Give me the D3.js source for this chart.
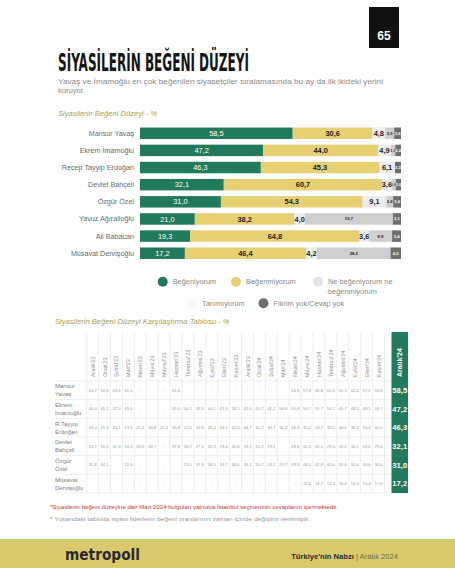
<!DOCTYPE html>
<html><head><meta charset="utf-8">
<script src="https://cdn.jsdelivr.net/npm/d3@7"></script>
<style>
html,body{margin:0;padding:0;background:#fff;}
svg{display:block;font-family:"Liberation Sans",Arial,sans-serif;}
</style></head>
<body><svg id="c" width="455" height="568"></svg>
<script>
// ---- bar chart data ----
const categories = ["Mansur Yavaş","Ekrem İmamoğlu","Recep Tayyip Erdoğan","Devlet Bahçeli","Özgür Özel","Yavuz Ağıralioğlu","Ali Babacan","Müsavat Dervişoğlu"];
const begeniyorum  = [58.5,47.2,46.3,32.1,31.0,21.0,19.3,17.2];
const begenmiyorum = [30.6,44.0,45.3,60.7,54.3,38.2,64.8,46.4];
const neNe         = [4.8,4.9,6.1,3.6,9.1,4.0,3.6,4.2];
const tanimiyorum  = [3.5,1.7,0,1.6,2.6,33.7,8.9,28.2];
const fikrimYok    = [2.6,2.2,2.3,2.0,3.0,3.1,3.4,4.0];
const seriesNames = ["Beğeniyorum","Beğenmiyorum","Ne beğeniyorum ne beğenmiyorum","Tanımıyorum","Fikrim yok/Cevap yok"];

// ---- comparison table data ----
const months = ["Aralık'22","Ocak'23","Şubat'23","Mart'23","Nisan'23","Mayıs'23","Mayıs2'23","Haziran'23","Temmuz'23","Ağustos'23","Eylül'23","Ekim'23","Kasım'23","Aralık'23","Ocak'24","Şubat'24","Mart'24","Nisan'24","Mayıs'24","Haziran'24","Temmuz'24","Ağustos'24","Eylül'24","Ekim'24","Kasım'24","Aralık'24"];
const tableRows = ["Mansur|Yavaş","Ekrem|İmamoğlu","R.Tayyip|Erdoğan","Devlet|Bahçeli","Özgür|Özel","Müsavat|Dervişoğlu"];
const yavasT   = [53.7,55.8,53.4,51.6,null,null,null,51.6,null,null,null,null,null,null,null,null,null,55.8,57.8,55.8,55.5,51.5,52.2,57.2,53.5,58.5];
const imamogluT= [46.4,45.1,47.0,45.0,null,null,null,45.0,50.1,39.3,40.1,41.5,38.1,41.0,41.7,41.2,50.8,50.8,50.7,51.7,54.2,45.7,46.2,48.1,46.7,47.2];
const erdoganT = [39.4,41.6,43.1,43.5,47.2,50.8,47.2,56.8,41.0,39.8,45.4,43.6,44.8,44.7,40.7,39.7,41.8,39.3,45.0,43.2,39.2,40.0,39.2,34.4,40.0,46.3];
const bahceliT = [34.2,35.1,31.3,34.4,33.6,34.7,null,37.8,30.7,27.4,32.2,29.6,30.6,33.3,31.2,29.4,null,29.8,32.1,32.3,29.0,32.2,30.1,26.6,29.0,32.1];
const ozelT    = [31.8,34.1,null,32.6,null,null,null,null,25.1,37.8,38.1,34.7,34.6,35.2,35.2,24.2,23.7,39.3,46.1,41.8,40.0,31.0,30.4,34.6,30.6,31.0];
const dervisogluT = [null,null,null,null,null,null,null,null,null,null,null,null,null,null,null,null,null,null,15.6,14.2,14.4,15.4,13.9,15.4,17.0,17.2];
const tableValues = [yavasT,imamogluT,erdoganT,bahceliT,ozelT,dervisogluT];

const colors = ["#227a5c","#e6d072","#ececec","#cfcfcf","#6e6e6e"];
const green = "#227a5c";
const fmt = v => d3.format(".1f")(v).replace(".",",");

const svg = d3.select("#c");

// page number box
svg.append("rect").attr("x",369).attr("y",7).attr("width",30).attr("height",41).attr("fill","#111");
svg.append("text").attr("x",384).attr("y",40).attr("text-anchor","middle").attr("fill","#fff")
  .attr("font-size",12).attr("font-weight",700).text("65");

// title
svg.append("text").attr("x",58).attr("y",71).attr("font-size",24).attr("font-weight",700)
  .attr("font-family","'Liberation Sans Narrow','DejaVu Sans Condensed',sans-serif")
  .attr("textLength",191).attr("lengthAdjust","spacingAndGlyphs").attr("fill","#151515")
  .text("SİYASİLERİN BEĞENİ DÜZEYİ");

svg.append("text").attr("x",58).attr("y",84).attr("font-size",7.6).attr("fill","#8a8a8a")
  .attr("textLength",325).attr("lengthAdjust","spacingAndGlyphs")
  .text("Yavaş ve İmamoğlu en çok beğenilen siyasetçiler sıralamasında bu ay da ilk ikideki yerini");
svg.append("text").attr("x",58).attr("y",93).attr("font-size",7.6).attr("fill","#8a8a8a").text("koruyor.");

svg.append("text").attr("x",58).attr("y",116).attr("font-size",7.6).attr("font-style","italic")
  .attr("fill","#a8a055").text("Siyasilerin Beğeni Düzeyi - %");

// ---- stacked bars ----
const x = d3.scaleLinear().domain([0,100]).range([140,401]);
const y = d3.scaleBand().domain(categories).range([124.7,261.8]).paddingInner(0.33).paddingOuter(0.165);
const rows = categories.map((c,i)=>({name:c, v:[begeniyorum[i],begenmiyorum[i],neNe[i],tanimiyorum[i],fikrimYok[i]]}));
const stackData = rows.map(r=>{const o={name:r.name}; seriesNames.forEach((s,k)=>o[s]=r.v[k]); return o;});
const stack = d3.stack().keys(seriesNames)(stackData);

const bars = svg.append("g");
stack.forEach((layer,k)=>{
  const g = bars.append("g");
  g.selectAll("rect").data(layer).join("rect")
    .attr("x",d=>x(d[0])).attr("y",d=>y(d.data.name))
    .attr("width",d=>Math.max(0,x(d[1])-x(d[0]))).attr("height",y.bandwidth())
    .attr("fill",colors[k]);
  g.selectAll("text").data(layer.filter(d=>d[1]-d[0]>0)).join("text")
    .attr("x",d=>(x(d[0])+x(d[1]))/2)
    .attr("y",d=>y(d.data.name)+y.bandwidth()/2)
    .attr("dy","0.35em").attr("text-anchor","middle")
    .attr("font-size",k<3?7.4:4.2)
    .attr("font-weight",k===0?400:700)
    .attr("fill",k===0||k===4?"#fff":"#222")
    .text(d=>fmt(d[1]-d[0]));
});
svg.append("g").selectAll("text").data(categories).join("text")
  .attr("x",134).attr("y",d=>y(d)+y.bandwidth()/2).attr("dy","0.35em")
  .attr("text-anchor","end").attr("font-size",7.2).attr("fill","#6a6a6a").text(d=>d);

// legend
const leg = svg.append("g").attr("font-size",7.4).attr("fill","#8a8a8a");
const legItems = [
  {c:colors[0],cx:162.7,cy:281.7,lines:["Beğeniyorum"]},
  {c:colors[1],cx:236,cy:281.7,lines:["Beğenmiyorum"]},
  {c:"#e4e4e4",cx:318,cy:281.7,lines:["Ne beğeniyorum ne","beğenmiyorum"]},
  {c:"#f6f6f6",cx:192,cy:303.3,lines:["Tanımıyorum"]},
  {c:colors[4],cx:263.5,cy:303.3,lines:["Fikrim yok/Cevap yok"]}
];
legItems.forEach(it=>{
  leg.append("circle").attr("cx",it.cx).attr("cy",it.cy).attr("r",5).attr("fill",it.c);
  it.lines.forEach((l,j)=>leg.append("text").attr("x",it.cx+10).attr("y",it.cy+j*10).attr("dy","0.35em").attr("fill","#8a8a8a").text(l));
});

// ---- comparison table ----
svg.append("text").attr("x",55).attr("y",324).attr("font-size",7.6).attr("font-style","italic")
  .attr("fill","#a8a055").text("Siyasilerin Beğeni Düzeyi Karşılaştırma Tablosu - %");

const regMonths = months.slice(0,months.length-1);
const lastMonth = months[months.length-1];
const cx = d3.scaleBand().domain(regMonths).range([86.7,384.5]);
const hx = d3.scaleBand().domain([lastMonth]).range([391.5,408]);
const ry = d3.scaleBand().domain(tableRows).range([381,493]);
const colX = m => m===lastMonth ? hx(m) : cx(m);
const colW = m => m===lastMonth ? hx.bandwidth() : cx.bandwidth();

const grid = svg.append("g").attr("stroke","#e2e2e2").attr("stroke-width",0.6);
regMonths.concat([null]).forEach((m,i)=>{
  const xx = m===null ? 384.5 : cx(m);
  grid.append("line").attr("x1",xx).attr("x2",xx).attr("y1",333).attr("y2",493);
});
tableRows.forEach(r=>{
  grid.append("line").attr("x1",55).attr("x2",408).attr("y1",ry(r)).attr("y2",ry(r));
});
grid.append("line").attr("x1",55).attr("x2",408).attr("y1",493).attr("y2",493);

svg.append("rect").attr("x",hx(lastMonth)).attr("y",332).attr("width",hx.bandwidth()).attr("height",161).attr("fill",green);

// header labels
svg.append("g").selectAll("text").data(months).join("text")
  .attr("transform",m=>`translate(${colX(m)+colW(m)/2+2},377) rotate(-90)`)
  .attr("font-size",m=>m===lastMonth?7:5.4)
  .attr("font-weight",m=>m===lastMonth?700:400)
  .attr("fill",m=>m===lastMonth?"#fff":"#8f8f8f")
  .text(m=>m);

// row labels
tableRows.forEach(r=>{
  const p = r.split("|");
  p.forEach((t,j)=>svg.append("text").attr("x",55).attr("y",ry(r)+ry.bandwidth()/2-4+j*8)
    .attr("dy","0.35em").attr("font-size",6).attr("fill","#808080").text(t));
});

// cells
tableRows.forEach((r,i)=>{
  const g = svg.append("g");
  g.selectAll("text").data(months.map((m,j)=>({m,v:tableValues[i][j]}))).join("text")
    .attr("x",d=>colX(d.m)+colW(d.m)/2)
    .attr("y",ry(r)+ry.bandwidth()/2).attr("dy","0.35em").attr("text-anchor","middle")
    .attr("font-size",d=>d.m===lastMonth?7.6:4.2)
    .attr("font-weight",d=>d.m===lastMonth?700:400)
    .attr("fill",d=>d.m===lastMonth?"#fff":"#9a9a9a")
    .text(d=>d.v==null?"-":fmt(d.v));
});

// footnotes
svg.append("text").attr("x",50).attr("y",509).attr("font-size",5).attr("fill","#c0392b")
  .attr("textLength",288).attr("lengthAdjust","spacingAndGlyphs")
  .text("*Siyasilerin beğeni düzeyine dair Mart 2024 bulguları yalnızca İstanbul seçmeninin cevaplarını içermektedir.");
svg.append("text").attr("x",50).attr("y",521).attr("font-size",5).attr("fill","#9a9a9a")
  .attr("textLength",260).attr("lengthAdjust","spacingAndGlyphs")
  .text("* Yukarıdaki tabloda siyasi liderlerin beğeni oranlarının zaman içinde değişimi verilmiştir.");

// footer
svg.append("rect").attr("x",0).attr("y",539).attr("width",455).attr("height",29).attr("fill","#d8ca6c");
svg.append("text").attr("x",65).attr("y",560).attr("font-size",15).attr("font-weight",700).attr("fill","#2a2a2a")
  .attr("font-family","'DejaVu Sans',sans-serif").attr("textLength",75).attr("lengthAdjust","spacingAndGlyphs").text("metropoll");
const ft = svg.append("text").attr("x",398).attr("y",559).attr("text-anchor","end").attr("font-size",7.6);
ft.append("tspan").attr("font-weight",700).attr("fill","#2a2a2a").text("Türkiye'nin Nabzı");
ft.append("tspan").attr("fill","#6b6b4a").text("  |  Aralık 2024");
</script></body></html>
